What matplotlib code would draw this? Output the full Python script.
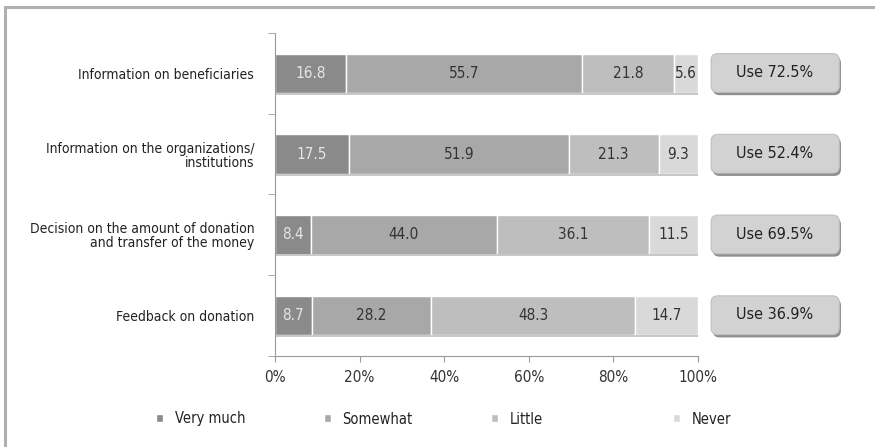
"""Barras apiladas: uso de información en donaciones."""

import matplotlib.pyplot as plt
from matplotlib.patches import FancyBboxPatch, Rectangle
import numpy as np

plt.rcParams['font.family'] = ['DejaVu Sans']
plt.rcParams['font.stretch'] = 'condensed'

categorias = ['Information on beneficiaries',
              'Information on the organizations/\ninstitutions',
              'Decision on the amount of donation\nand transfer of the money',
              'Feedback on donation']
series = ['Very much', 'Somewhat', 'Little', 'Never']
muy = [16.8, 17.5, 8.4, 8.7]
algo = [55.7, 51.9, 44.0, 28.2]
poco = [21.8, 21.3, 36.1, 48.3]
nunca = [5.6, 9.3, 11.5, 14.7]
uso = ['Use 72.5%', 'Use 52.4%', 'Use 69.5%', 'Use 36.9%']
ticks_x = [0, 20, 40, 60, 80, 100]

colores = ['#8a8a8a', '#a8a8a8', '#bebebe', '#d9d9d9']
colores_txt = ['#e6e6e6', '#333333', '#333333', '#333333']
x_leyenda = [152, 320, 487, 669]  # px, posición de cada entrada

fig = plt.figure(figsize=(8.75, 4.47), dpi=100)
ax = fig.add_axes([0.3143, 0.2036, 0.4834, 0.7226])

# marco de la figura
fig.patches.append(Rectangle((5 / 875, -0.1), 2, 1.1 - 7 / 447,
                             transform=fig.transFigure, fill=False,
                             edgecolor='#b0b0b0', linewidth=2.2))

y = np.arange(len(categorias))
izq = np.zeros(len(categorias))
for nombre, vals, col, ctxt in zip(series, [muy, algo, poco, nunca],
                                   colores, colores_txt):
    vals = np.array(vals)
    barras = ax.barh(y, vals, left=izq, height=0.49, color=col,
                     edgecolor='white', linewidth=1.0, label=nombre)
    # sombra inferior
    ax.barh(y + 0.255, vals, left=izq, height=0.025, color='#c8c8c8',
            linewidth=0)
    for b, v in zip(barras, vals):
        ax.text(b.get_x() + b.get_width() / 2, b.get_y() + b.get_height() / 2,
                f'{v:.1f}', ha='center', va='center', fontsize=11,
                color=ctxt)
    izq += vals

# cajas "Use xx%" con aspecto de botón
aspecto = (ax.bbox.width / 100) / (ax.bbox.height / 4)
for i, txt in enumerate(uso):
    sombra = FancyBboxPatch((103.5, i - 0.21), 30.3, 0.48,
                            boxstyle='round,pad=0,rounding_size=1.6',
                            mutation_aspect=aspecto,
                            transform=ax.transData, clip_on=False,
                            facecolor='#8e8e8e', edgecolor='none')
    caja = FancyBboxPatch((103.1, i - 0.245), 30.3, 0.48,
                          boxstyle='round,pad=0,rounding_size=1.6',
                          mutation_aspect=aspecto,
                          transform=ax.transData, clip_on=False,
                          facecolor='#d2d2d2', edgecolor='#c0c0c0',
                          linewidth=0.8)
    ax.add_patch(sombra)
    ax.add_patch(caja)
    ax.text(118.2, i - 0.01, txt, ha='center', va='center', fontsize=11.5,
            color='#222222', clip_on=False)

ax.set_xlim(0, 100)
ax.set_ylim(3.5, -0.5)
ax.set_xticks(ticks_x)
ax.set_xticklabels([f'{t}%' for t in ticks_x], fontsize=11, color='#333333')
ax.set_yticks(y)
ax.set_yticklabels(categorias, fontsize=10, color='#222222',
                   linespacing=1.0)
ax.tick_params(axis='y', length=0, pad=15)
ax.set_yticks(np.arange(-0.5, 4, 1), minor=True)
ax.tick_params(axis='y', which='minor', length=5, color='#999999')
ax.tick_params(axis='x', length=4, color='#999999', pad=6)
for lado in ['top', 'right']:
    ax.spines[lado].set_visible(False)
for lado in ['left', 'bottom']:
    ax.spines[lado].set_color('#999999')

handles, labels = ax.get_legend_handles_labels()
for h, l, xl in zip(handles[:4], labels[:4], x_leyenda):
    fig.legend([h], [l], loc='center left',
               bbox_to_anchor=(xl / 875, 1 - 419 / 447), frameon=False,
               fontsize=10.5, handlelength=0.45, handleheight=0.45,
               handletextpad=0.8, borderaxespad=0, borderpad=0.3,
               labelcolor='#222222')

fig.savefig('out.png', dpi=100)
